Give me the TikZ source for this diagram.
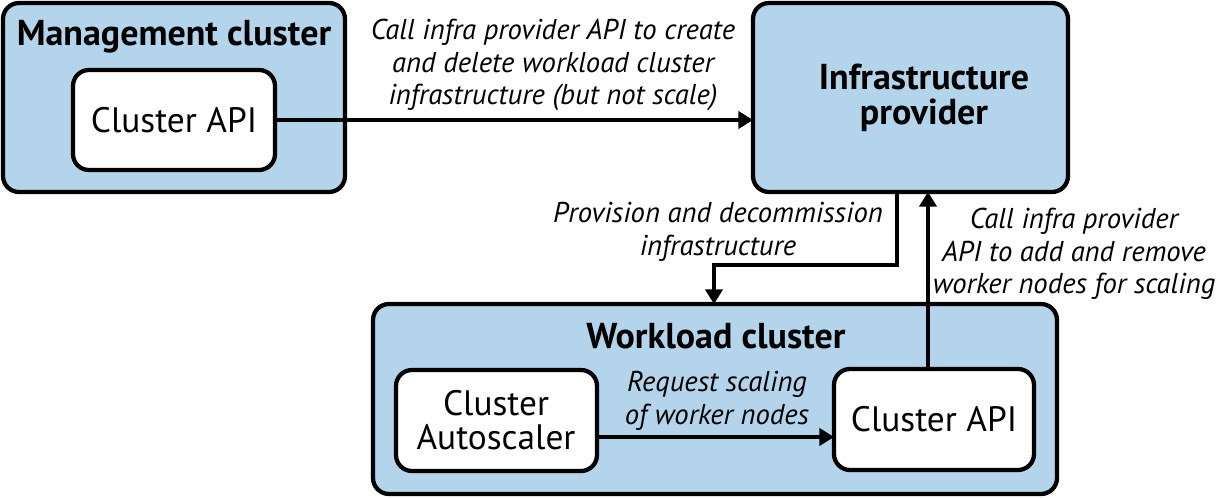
\documentclass[tikz,border=0pt]{standalone}
\usepackage{fontspec}
\setmainfont{PT Sans}
\usetikzlibrary{arrows.meta}
\definecolor{boxblue}{HTML}{B3D4EA}
\tikzset{
  outerbox/.style={draw=black, line width=3.2pt, fill=boxblue, rounded corners=12pt},
  innerbox/.style={draw=black, line width=3.2pt, fill=white, rounded corners=12pt},
  title/.style={font=\fontsize{27}{30}\selectfont\bfseries, align=center},
  comp/.style={font=\fontsize{26.5}{30}\selectfont, align=center},
  lbl/.style={font=\fontsize{21.5}{24.4}\selectfont\itshape, align=center},
  conn/.style={line width=2.4pt, -{Triangle[length=11pt,width=13pt]}},
}
\begin{document}
\begin{tikzpicture}[x=0.75pt,y=-0.75pt]
\useasboundingbox (0,0) rectangle (1218,498);
% boxes
\draw[outerbox] (3,3) rectangle (345,192);
\node[title] (mgmtT) at (174,37) {Management cluster};
\draw[innerbox] (73,70) rectangle (275,170);
\node[comp] (capi1) at (174,120) {Cluster API};
\coordinate (capi1R) at (275,120);

\draw[outerbox] (753,3) rectangle (1068,192);
\node[title, font=\fontsize{27}{26.5}\selectfont\bfseries] (infra) at (924,98) {Infrastructure\\provider};
\coordinate (infraL) at (753,120);
\coordinate (infraB1) at (897,192);
\coordinate (infraB2) at (928,192);

\draw[outerbox] (373,304) rectangle (1057,494);
\node[title] (wlT) at (716,336) {Workload cluster};
\coordinate (wlTop) at (714,304);
\draw[innerbox] (396,370) rectangle (597,471);
\node[comp, font=\fontsize{26.5}{25.5}\selectfont] (cas) at (496,420) {Cluster\\Autoscaler};
\coordinate (casR) at (597,437);
\draw[innerbox] (834,369) rectangle (1034,470);
\node[comp] (capi2) at (934,419) {Cluster API};
\coordinate (capi2L) at (834,437);
\coordinate (capi2T) at (928,369);

% connectors
\draw[conn] (capi1R) -- (infraL);
\draw[conn] (infraB1) |- (805,265) -| (wlTop);
\draw[conn] (capi2T) -- (infraB2);
\draw[conn] (casR) -- (capi2L);

% labels
\node[lbl] (l1) at (553,65) {Call infra provider API to create\\and delete workload cluster\\infrastructure (but not scale)};
\node[lbl] (l2) at (718,232) {Provision and decommission\\infrastructure};
\node[lbl] (l3) at (1074,254) {Call infra provider\\API to add and remove\\worker nodes for scaling};
\node[lbl] (l4) at (717,401) {Request scaling\\of worker nodes};
\end{tikzpicture}
\end{document}
